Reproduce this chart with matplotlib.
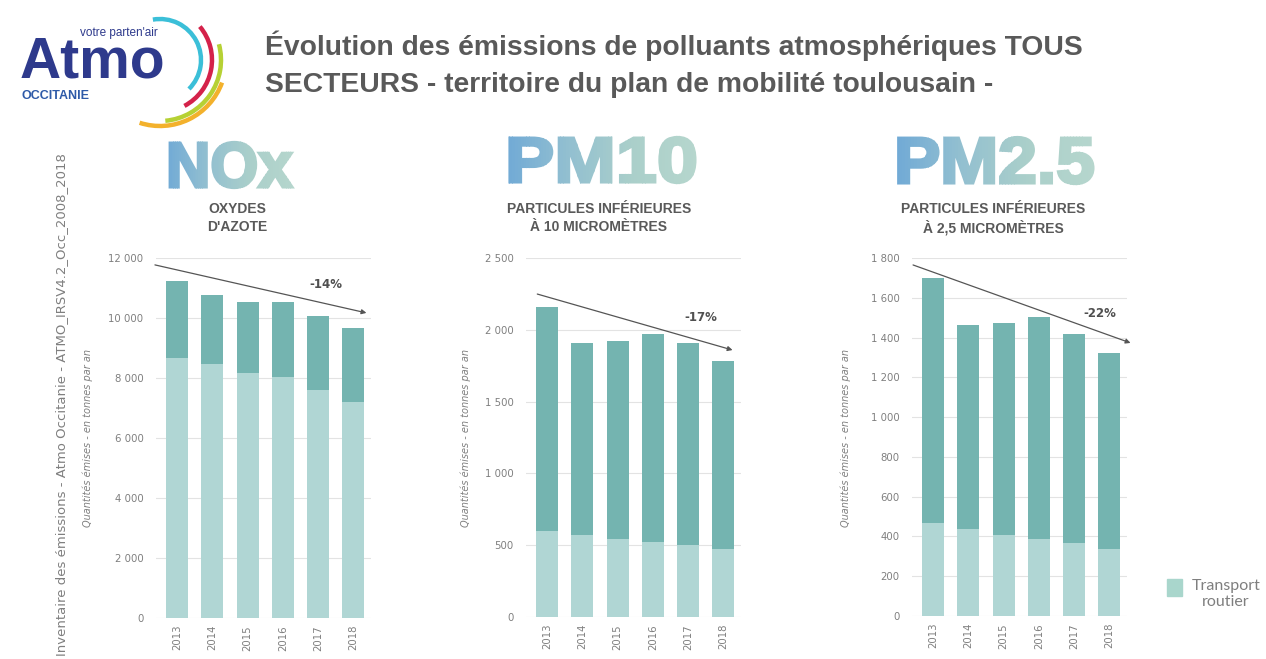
import numpy as np
import matplotlib
matplotlib.use("Agg")
import matplotlib.pyplot as plt
from matplotlib.path import Path
from matplotlib.patches import Arc, PathPatch, Rectangle
from matplotlib.textpath import TextPath
from matplotlib.font_manager import FontProperties
from matplotlib.colors import LinearSegmentedColormap
from matplotlib.ticker import FuncFormatter

# data (tonnes per year)
years = ["2013", "2014", "2015", "2016", "2017", "2018"]

nox_total = [11250, 10780, 10520, 10520, 10080, 9680]
nox_road = [8670, 8470, 8170, 8030, 7600, 7200]

pm10_total = [2160, 1910, 1925, 1970, 1910, 1785]
pm10_road = [600, 570, 545, 525, 500, 475]

pm25_total = [1700, 1465, 1475, 1505, 1420, 1322]
pm25_road = [467, 437, 407, 387, 367, 337]

trend_labels = ["-14%", "-17%", "-22%"]
# trend arrows (start x, start y, end x, end y) and label position, data coords
nox_arrow = [-0.63, 11770, 5.37, 10170]
pm10_arrow = [-0.28, 2249, 5.26, 1859]
pm25_arrow = [-0.57, 1765, 5.6, 1373]
nox_lab = [4.23, 11133]
pm10_lab = [4.35, 2089]
pm25_lab = [4.74, 1523]

W, H = 1266, 659
DARK = "#74b4b0"
LIGHT = "#b0d6d4"
GREY = "#7f7f7f"
TXT = "#595959"

fig = plt.figure(figsize=(W / 100, H / 100), dpi=100, facecolor="white")

# overlay in pixel coords (y up) for logo and big gradient words
deco = fig.add_axes([0, 0, 1, 1], zorder=0)
deco.set_axis_off()
deco.set_xlim(0, W)
deco.set_ylim(0, H)

grad_cmap = LinearSegmentedColormap.from_list(
    "g", ["#6ea8d6", "#92bfd0", "#aacfca", "#b6d6cd"])


def gradient_word(s, x0, x1, top, base, n=70):
    # word drawn as a path, coloured in thin vertical strips
    fp = FontProperties(family="Liberation Sans", weight="bold")
    cap = base - top
    tp = TextPath((0, 0), s, size=cap / 0.72, prop=fp)
    v = np.array(tp.vertices, dtype=float)
    codes = np.array(tp.codes)
    xmin, xmax = v[:, 0].min(), v[:, 0].max()
    v[:, 0] = (v[:, 0] - xmin) * (x1 - x0 - 2) / (xmax - xmin) + x0 + 1
    v[:, 1] = v[:, 1] + (H - base) + 1
    path = Path(v, codes)
    edges = np.linspace(x0 - 3, x1 + 3, n + 1)
    for i in range(n):
        col = grad_cmap(i / (n - 1))
        pp = PathPatch(path, facecolor=col, edgecolor=col, lw=2.2)
        deco.add_patch(pp)
        clip = Rectangle((edges[i], H - base - 15), edges[i + 1] - edges[i] + 0.3, cap + 30,
                         transform=deco.transData)
        pp.set_clip_path(clip)


gradient_word("NOx", 165, 293, 142, 188)
gradient_word("PM10", 504, 696, 137, 183)
gradient_word("PM2.5", 893, 1094, 137, 184)

# logo arcs
cx, cy = 160, H - 60
for r, t1, t2, col in [(41, -45, 100, "#3bbfd8"), (52, -62, 40, "#d4224a"),
                       (61, -85, 15, "#b6d134"), (66, -108, -20, "#f3b12c")]:
    deco.add_patch(Arc((cx, cy), 2 * r, 2 * r, theta1=t1, theta2=t2, color=col, lw=3.2))

fig.text(20 / W, 1 - 77 / H, "Atmo", fontsize=41, fontweight="bold", color="#2e3a8c",
         family="Liberation Sans", va="baseline")
fig.text(80 / W, 1 - 33 / H, "votre parten'air", fontsize=8.5, color="#2e3a8c",
         family="Liberation Sans", va="center")
fig.text(22 / W, 1 - 96 / H, "OCCITANIE", fontsize=9, fontweight="bold", color="#2e5aa8",
         family="Liberation Sans", va="center")

fig.text(265 / W, 1 - 46 / H, "Évolution des émissions de polluants atmosphériques TOUS",
         fontsize=20.3, fontweight="bold", color=TXT, family="Liberation Sans", va="center")
fig.text(265 / W, 1 - 85 / H, "SECTEURS - territoire du plan de mobilité toulousain -",
         fontsize=20.3, fontweight="bold", color=TXT, family="Liberation Sans", va="center")

fig.text(62 / W, 1 - 405 / H,
         "Inventaire des émissions - Atmo Occitanie - ATMO_IRSV4.2_Occ_2008_2018",
         rotation=90, fontsize=9.5, color=GREY, ha="center", va="center")

panels = [
    (156, 618, 258, nox_total, nox_road, 12000, 2000, nox_arrow, nox_lab, trend_labels[0],
     "OXYDES\nD'AZOTE", 237, 88),
    (526, 617, 258, pm10_total, pm10_road, 2500, 500, pm10_arrow, pm10_lab, trend_labels[1],
     "PARTICULES INFÉRIEURES\nÀ 10 MICROMÈTRES", 599, 466),
    (912, 616, 258, pm25_total, pm25_road, 1800, 200, pm25_arrow, pm25_lab, trend_labels[2],
     "PARTICULES INFÉRIEURES\nÀ 2,5 MICROMÈTRES", 993, 846),
]

fmt = FuncFormatter(lambda v, p: f"{int(v):,}".replace(",", " "))
x = np.arange(len(years))

for (left, bot, top, total, road, ymax, step, arr, lab, ltxt, sub, subx, ylx) in panels:
    ax = fig.add_axes([left / W, 1 - bot / H, 215 / W, (bot - top) / H], zorder=2)
    ax.patch.set_alpha(0)
    other = np.array(total) - np.array(road)
    ax.bar(x, road, width=0.63, color=LIGHT, zorder=2)
    ax.bar(x, other, bottom=road, width=0.63, color=DARK, zorder=2)
    ax.set_xlim(-0.6, 5.5)
    ax.set_ylim(0, ymax)
    ax.set_yticks(np.arange(0, ymax + 1, step))
    ax.yaxis.set_major_formatter(fmt)
    ax.set_xticks(x)
    ax.set_xticklabels(years, rotation=90)
    ax.tick_params(length=0, labelsize=7.3, labelcolor=GREY)
    ax.tick_params(axis="y", pad=9)
    ax.tick_params(axis="x", pad=5)
    ax.grid(axis="y", color="#e3e3e3", lw=0.8, zorder=0)
    for s in ax.spines.values():
        s.set_visible(False)
    ax.annotate("", xy=(arr[2], arr[3]), xytext=(arr[0], arr[1]),
                arrowprops=dict(arrowstyle="-|>", color="#555555", lw=0.9,
                                mutation_scale=7, shrinkA=0, shrinkB=0),
                annotation_clip=False, zorder=4)
    ax.text(lab[0], lab[1], ltxt, fontsize=8.5, fontweight="bold", color="#505050",
            ha="center", va="center", zorder=5)
    fig.text(subx / W, 1 - 202 / H, sub, fontsize=10, fontweight="bold", color=TXT,
             family="Liberation Sans", ha="center", va="top", linespacing=1.35)
    fig.text(ylx / W, 1 - 438 / H, "Quantités émises - en tonnes par an", rotation=90,
             fontsize=7, style="italic", color=GREY, ha="center", va="center")

# legend
fig.patches.append(Rectangle((1167 / W, 1 - 596 / H), 15 / W, 17 / H,
                             transform=fig.transFigure, color="#a9d6cc", figure=fig))
fig.text(1226 / W, 1 - 594 / H, "Transport\nroutier", fontsize=11.5, color=GREY,
         family="Lato", ha="center", va="center", linespacing=1.1)

fig.savefig("out.png", dpi=100, facecolor="white")
